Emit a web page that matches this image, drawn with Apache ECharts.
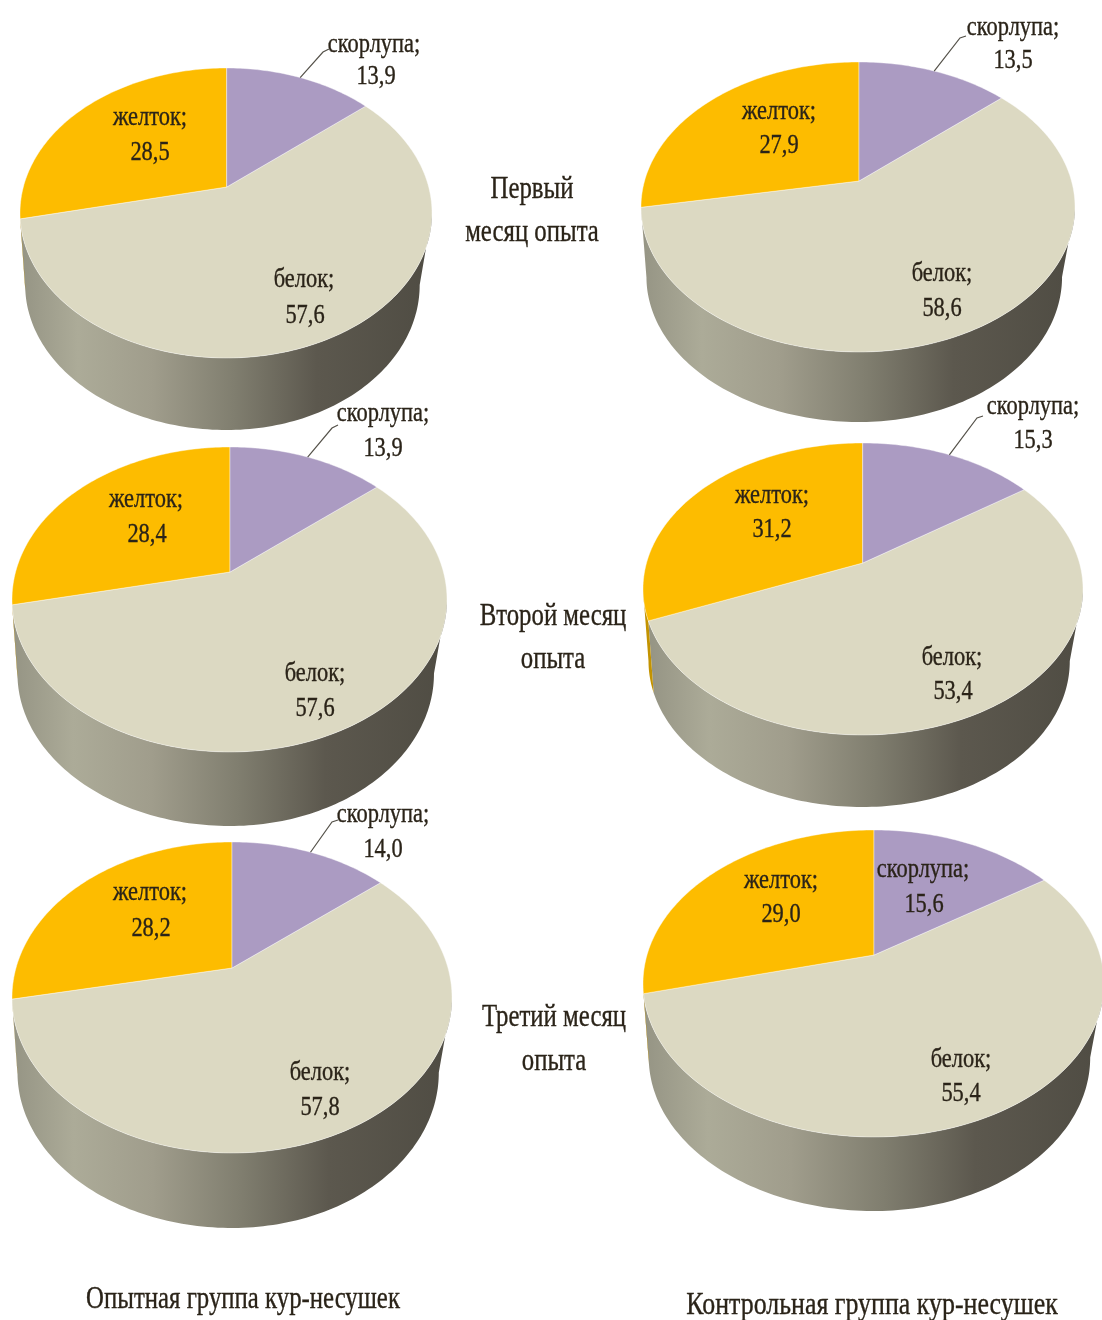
<!DOCTYPE html>
<html><head><meta charset="utf-8">
<style>html,body{margin:0;padding:0;background:#fff}#c{width:1102px;height:1320px}</style>
<script src="https://cdn.jsdelivr.net/npm/echarts@6/dist/echarts.min.js"></script>
</head><body><div id="c"></div>
<script>
// DATA
const shell = [13.9, 13.5, 13.9, 15.3, 14.0, 15.6];
const yolk  = [28.5, 27.9, 28.4, 31.2, 28.2, 29.0];
const white = [57.6, 58.6, 57.6, 53.4, 57.8, 55.4];
const shellName = 'скорлупа;', whiteName = 'белок;', yolkName = 'желток;';
const monthLabels = [['Первый','месяц опыта'],['Второй месяц','опыта'],['Третий месяц','опыта']];
const groupLabels = ['Опытная группа кур-несушек','Контрольная группа кур-несушек'];

// LAYOUT: projection of each pie [apexX, apexY, top, faceBottom, left, right, depth]
const frames = [
  [226.7,187,68,358,20,432,72],
  [859,181,62,352,641,1075,70],
  [230,572,447,752,12,447,74],
  [862.7,563,443,735,643,1083,72],
  [232,968,842,1153,12,452,75],
  [874,955,830,1137,643,1104,74]
];
// label centres: shell, shell value, yolk, yolk value, white, white value
const labelPos = [
  [[374,45],[376,77],[150,118],[150,153],[304,280],[305,316]],
  [[1013,28],[1013,61],[779,112],[779,146],[942,274],[942,309]],
  [[383,414],[383,449],[146,500],[147,535],[315,674],[315,709]],
  [[1033,407],[1033,441],[772,496],[772,530],[952,658],[953,692]],
  [[383,815],[383,850],[150,893],[151,929],[320,1073],[320,1108]],
  [[923,870],[924,905],[781,881],[781,915],[961,1060],[961,1094]]
];
const leaderEnds = [[[323,52],[329,49]],[[960,38],[966,36]],[[332,428],[338,425]],[[977,418],[983,416]],[[332,822],[338,820]],null];

const C = {shell:'#ab9bc2', white:'#dcd9c2', yolk:'#fdbc00', yolkSide:'#c39300', text:'#2a2318', leader:'#55524a'};
const sideFill = {type:'linear',x:0,y:0,x2:1,y2:0,colorStops:[
  {offset:0,color:'#959484'},{offset:.14,color:'#acab98'},{offset:.32,color:'#a09d8c'},
  {offset:.52,color:'#807e6f'},{offset:.72,color:'#5c584e'},{offset:1,color:'#4f4c43'}]};
const FONT = '"Liberation Serif", serif';
const LOWER_L = 0.975, LOWER_R = 0.94;

function makeProjector(f){
  const [ax,ay,top,bot,left,right] = f;
  const up = ay-top, dn = bot-ay;
  const k = (dn-up)/(dn+up), B = up*(1+k);
  const AL = (ax-left)*Math.sqrt(1-k*k), AR = (right-ax)*Math.sqrt(1-k*k);
  const p = t => {
    const X = Math.sin(t), Y = Math.cos(t), w = 1+k*Y;
    return [ax + (X<0?AL:AR)*X/w, ay - B*Y/w];
  };
  p.k = k;
  return p;
}
function arc(p,a,b){
  const n = Math.max(2,Math.ceil(Math.abs(b-a)/0.02)), r=[];
  for(let i=0;i<=n;i++) r.push(p(a+(b-a)*i/n));
  return r;
}
function txt(s,x,y,size,sx){
  return {type:'text',x:x,y:y,scaleX:sx,silent:true,
    style:{text:s,x:0,y:0,align:'center',verticalAlign:'middle',font:size+'px '+FONT,fill:C.text,
      stroke:C.text,lineWidth:0.35}};
}
function renderPie(params,api){
  const i = api.value(3), f = frames[i], p = makeProjector(f), d = f[6];
  const vals = [api.value(0),api.value(1),api.value(2)];
  const tot = vals[0]+vals[1]+vals[2], T = Math.PI*2;
  const a1 = vals[0]/tot*T, a2 = (vals[0]+vals[1])/tot*T;
  const front0 = Math.acos(-p.k), front1 = T-front0;
  const apex = [f[0],f[1]];
  const wall = (a,b,fill)=>{
    const e = arc(p,a,b);
    const low = e.slice().reverse().map(q=>[f[0]+(q[0]-f[0])*(q[0]<f[0]?LOWER_L:LOWER_R),q[1]+d]);
    return {type:'polygon',silent:true,shape:{points:e.concat(low)},style:{fill:fill}};
  };
  const wedge = (a,b,fill)=>({type:'polygon',silent:true,shape:{points:[apex].concat(arc(p,a,b))},
    style:{fill:fill,stroke:'rgba(255,255,255,0.4)',lineWidth:1}});
  const children = [];
  children.push(wall(front0,Math.min(a2,front1),sideFill));
  if(a2<front1) children.push(wall(a2,front1,C.yolkSide));
  children.push(wedge(a1,a2,C.white));
  children.push(wedge(a2,T,C.yolk));
  children.push(wedge(0,a1,C.shell));
  if(leaderEnds[i]){
    const s = p(a1/2);
    children.push({type:'polyline',silent:true,shape:{points:[s].concat(leaderEnds[i])},
      style:{fill:null,stroke:C.leader,lineWidth:1.2}});
  }
  const L = labelPos[i], fmt = v=>v.toFixed(1).replace('.',',');
  const strs = [shellName,fmt(vals[0]),yolkName,fmt(vals[2]),whiteName,fmt(vals[1])];
  strs.forEach((s,j)=>children.push(txt(s,L[j][0],L[j][1],27,0.83)));
  return {type:'group',children:children};
}
const titleTexts = [];
const monthPos = [[[532,190],[532,233]],[[553,617],[553,660]],[[554,1018],[554,1062]]];
monthLabels.forEach((m,i)=>m.forEach((s,j)=>{
  const q=monthPos[i][j]; titleTexts.push(txt(s,q[0],q[1],31,0.80));}));
const groupPos=[[243,1300],[872,1306]];
const groupScale=[0.80,0.836];
groupLabels.forEach((s,i)=>titleTexts.push(txt(s,groupPos[i][0],groupPos[i][1],31,groupScale[i])));

const chart = echarts.init(document.getElementById('c'),null,{renderer:'canvas'});
chart.setOption({
  animation:false,
  backgroundColor:'#fff',
  graphic:{elements:titleTexts},
  series:[{
    type:'custom',coordinateSystem:'none',silent:true,
    renderItem:renderPie,
    data:shell.map((v,i)=>[v,white[i],yolk[i],i])
  }]
});
</script></body></html>
